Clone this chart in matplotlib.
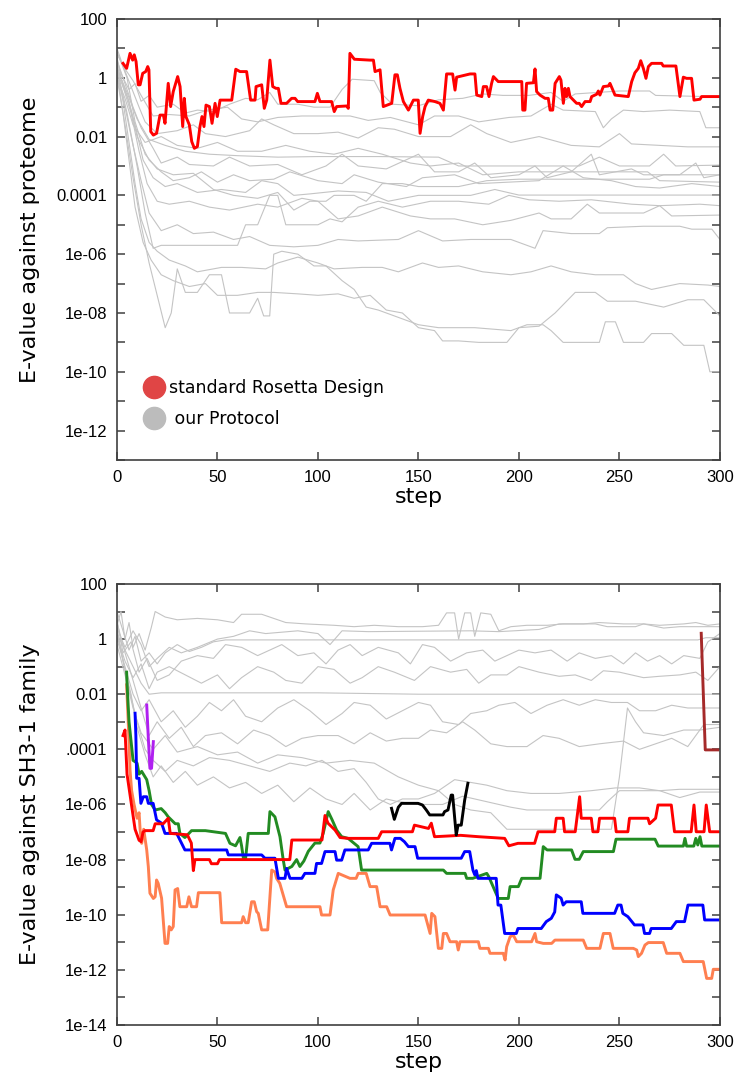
import numpy as np
import matplotlib as mpl
import matplotlib.pyplot as plt
from matplotlib.ticker import FixedLocator, NullFormatter
from matplotlib.lines import Line2D

mpl.rcParams['font.family'] = 'DejaVu Sans'

# ---------------- data: (step, log10 E-value) ----------------
# top panel: standard Rosetta design
top_red = [(3, 0.49), (4.8, 0.32), (6.5, 0.83), (7.8, 0.6), (8.6, 0.78), (9.5, 0.55), (10.6, -0.24),
           (11.5, -0.24), (12.8, 0.15), (14.3, 0.21), (15.3, 0.38), (15.9, 0.27), (16.8, -1.83),
           (18.1, -1.95), (19.7, -1.89), (21.4, -1.27), (23.1, -1.27), (23.9, -1.55), (25.5, -0.19),
           (26.7, -0.98), (28, -0.47), (30.2, 0.04), (31.4, -0.3), (32.7, -1.66), (33.5, -0.7),
           (34.3, -1.32), (36, -1.6), (37.2, -2.17), (38.5, -2.4), (40, -2.34), (41.3, -1.66),
           (42.3, -1.32), (43.3, -1.66), (44.3, -0.93), (46, -0.98), (47.3, -1.55), (48.8, -0.87),
           (49.9, -1.32), (51.3, -0.76), (57.1, -0.76), (59.1, 0.29), (61.2, 0.21), (64.5, 0.21),
           (66.5, -0.76), (68.7, -0.76), (69.2, -0.3), (72, -0.24), (73.3, -1.04), (74.5, -0.76),
           (76.1, 0.6), (77.5, -0.3), (79.1, -0.36), (80.3, -0.36), (81.6, -0.87), (84.4, -0.87),
           (86.9, -0.7), (88.6, -0.7), (89.9, -0.81), (98.5, -0.81), (99.7, -0.53), (101, -0.81),
           (106.8, -0.81), (108.1, -1.15), (109.3, -0.98), (114.3, -0.96), (115.1, -1.04),
           (115.9, 0.83), (118.1, 0.63), (125.9, 0.6), (127.6, 0.6), (128.4, 0.21), (130.9, 0.27),
           (132.5, -0.98), (136.7, -0.87), (138.3, 0.1), (139.5, 0.1), (140.8, -0.36), (142.5, -0.81),
           (145, -1.1), (147.5, -0.76), (149.9, -0.76), (150.8, -1.89), (152.1, -1.32), (153.3, -0.98),
           (154.9, -0.76), (158.2, -0.81), (160.7, -0.87), (162.4, -1.1), (164, 0.13), (167, 0.13),
           (168.2, -0.42), (169, 0.02), (175.7, 0.13), (178.1, 0.13), (179, -0.59), (181.5, -0.64),
           (182.3, -0.3), (183.9, -0.3), (185.1, -0.64), (186.4, -0.19), (187.3, 0.04), (189.7, -0.13),
           (201.4, -0.13), (201.9, -1.1), (203, -1.1), (203.8, -0.19), (207.2, -0.17), (208, 0.3),
           (208.8, -0.47), (210.5, -0.59), (213, -0.7), (214.6, -0.7), (215.5, -1.1), (216.8, -1.1),
           (218, -0.19), (220.1, 0.04), (220.9, -0.08), (222.1, -0.87), (222.9, -0.36), (223.7, -0.64),
           (224.6, -0.36), (225.4, -0.64), (227.1, -0.76), (228.7, -0.87), (230, -0.87), (231.2, -0.98),
           (232.9, -0.81), (235.4, -0.81), (236.2, -0.64), (238.7, -0.56), (239.5, -0.45), (240.3, -0.59),
           (242, -0.3), (244.5, -0.28), (245.3, -0.19), (247.8, -0.59), (254.4, -0.64), (256.1, -0.13),
           (257.7, 0.17), (259.4, 0.32), (260.6, 0.58), (261.9, 0.32), (263.2, -0.02), (264.4, 0.38),
           (266, 0.49), (271, 0.49), (271.8, 0.4), (278.1, 0.4), (280.1, -0.64), (281.8, 0.02),
           (283.4, -0.02), (285.9, -0.02), (287.1, -0.76), (290.1, -0.73), (290.9, -0.64), (300, -0.64)]

# top panel: our protocol runs
top_grey = [
    [(0, 0.5), (3, 0.0), (6, -0.4), (9, -0.2), (12, -0.8), (16, -0.6), (20, -1.0), (28, -0.9), (34, -1.2),
     (40, -1.1), (48, -1.15), (56, -0.9), (64, -0.7), (70, -0.75), (76, -0.5), (80, -0.9), (90, -0.9),
     (98, -1.0), (106, -1.0), (112, -0.4), (117, -0.05), (128, -0.1), (131, -0.5), (137, -0.9), (150, -0.95),
     (160, -0.75), (172, -0.7), (182, -0.55), (192, -0.6), (205, -0.6), (216, -0.5), (222, -0.8), (228, -0.55),
     (250, -0.45), (265, -0.45), (268, -0.6), (300, -0.65)],
    [(0, 0.8), (4, 0.3), (8, -0.1), (12, -0.6), (18, -1.3), (26, -1.25), (36, -1.3), (45, -1.1), (55, -1.0),
     (62, -1.4), (70, -1.5), (80, -1.35), (92, -1.3), (100, -1.3), (116, -1.3), (125, -1.45), (136, -1.35),
     (150, -1.6), (158, -1.3), (170, -1.3), (180, -1.5), (195, -1.35), (206, -1.3), (216, -0.9), (222, -1.1),
     (238, -1.15), (242, -1.7), (246, -1.4), (252, -1.1), (262, -1.15), (275, -1.1), (290, -1.15),
     (293, -1.7), (300, -1.7)],
    [(0, 1.0), (3, 0.4), (7, -0.3), (11, -1.0), (14, -1.5), (20, -1.9), (30, -1.8), (38, -1.6), (44, -1.9),
     (54, -2.0), (66, -1.8), (72, -1.4), (78, -1.6), (88, -1.9), (100, -1.9), (110, -1.85), (120, -2.05),
     (130, -1.7), (138, -1.75), (150, -2.0), (166, -2.0), (176, -1.6), (184, -1.9), (196, -2.2), (210, -2.0),
     (226, -2.3), (240, -2.35), (250, -1.9), (256, -2.25), (270, -2.3), (284, -2.35), (300, -2.35)],
    [(0, 0.3), (5, -0.5), (10, -1.4), (16, -2.1), (24, -2.3), (34, -2.5), (46, -2.6), (60, -2.65), (80, -2.7),
     (100, -2.68), (130, -2.68), (160, -2.7), (170, -3.0), (200, -3.0), (230, -3.0), (240, -2.7), (250, -3.0),
     (265, -3.0), (272, -2.6), (278, -3.0), (300, -2.97)],
    [(0, 0.6), (4, -0.2), (8, -1.0), (12, -1.7), (18, -2.4), (22, -2.9), (30, -2.7), (36, -2.95), (48, -3.0),
     (56, -2.7), (66, -3.0), (80, -2.95), (92, -3.3), (104, -3.0), (112, -2.6), (120, -3.0), (134, -3.1),
     (150, -2.6), (158, -3.2), (170, -3.2), (178, -2.9), (186, -3.4), (200, -3.3), (208, -3.0), (214, -3.4),
     (226, -3.2), (236, -2.6), (240, -3.3), (256, -3.1), (262, -3.3), (280, -3.3), (288, -2.9), (292, -3.4),
     (300, -3.3)],
    [(0, 0.2), (6, -0.8), (10, -2.0), (16, -2.8), (22, -3.2), (28, -3.5), (36, -3.4), (42, -3.2), (50, -3.55),
     (58, -3.3), (66, -3.5), (78, -3.45), (86, -3.2), (100, -3.5), (112, -3.6), (118, -3.3), (130, -3.55),
     (144, -3.7), (152, -3.4), (168, -3.3), (180, -3.6), (195, -3.55), (210, -3.5), (222, -3.0), (232, -3.4),
     (246, -3.5), (258, -3.7), (270, -3.75), (286, -3.6), (300, -3.7)],
    [(0, 0.4), (5, -0.6), (9, -1.6), (13, -2.8), (18, -3.4), (24, -3.7), (30, -3.6), (40, -3.9), (52, -3.8),
     (64, -3.9), (72, -3.5), (80, -3.6), (88, -4.0), (96, -3.95), (110, -3.85), (124, -3.9), (135, -4.2),
     (150, -4.0), (163, -4.0), (176, -4.0), (188, -3.8), (200, -3.99), (300, -3.99)],
    [(0, 0.7), (3, -0.3), (7, -1.2), (11, -2.5), (15, -3.6), (20, -4.2), (26, -4.3), (36, -4.2), (46, -4.4),
     (56, -4.5), (70, -4.3), (80, -4.4), (92, -4.1), (100, -4.2), (110, -4.8), (120, -4.7), (132, -4.4),
     (146, -4.7), (156, -4.8), (168, -4.8), (182, -5.0), (196, -4.85), (210, -4.6), (216, -4.8), (226, -4.8),
     (234, -4.3), (240, -4.6), (262, -4.6), (270, -4.35), (276, -4.7), (300, -4.67)],
    [(0, 0.1), (4, -1.0), (8, -2.3), (12, -3.5), (16, -4.6), (22, -5.2), (30, -5.0), (38, -5.3), (48, -5.25),
     (58, -5.5), (66, -5.4), (76, -5.7), (88, -5.75), (100, -5.7), (110, -5.5), (120, -5.55), (140, -5.5),
     (150, -5.2), (162, -5.55), (176, -5.5), (196, -5.5), (208, -5.8), (212, -5.2), (226, -5.3), (240, -5.3),
     (244, -5.1), (262, -5.05), (280, -5.05), (286, -5.15), (296, -5.15), (300, -5.5)],
    [(0, 0.5), (3, -0.8), (6, -2.2), (9, -3.6), (12, -4.8), (16, -5.6), (20, -5.9), (26, -6.2), (34, -6.4),
     (40, -6.6), (52, -6.45), (62, -6.45), (74, -6.5), (80, -6.3), (90, -6.1), (100, -6.3), (108, -6.5),
     (122, -6.45), (132, -6.45), (140, -6.6), (152, -6.3), (160, -6.45), (170, -6.4), (182, -6.6), (196, -6.7),
     (206, -6.6), (216, -6.4), (226, -6.6), (238, -6.7), (252, -6.7), (258, -7.0), (266, -7.2), (280, -7.0),
     (294, -7.05), (300, -7.1)],
    [(0, 0.2), (3, -1.2), (6, -2.8), (9, -4.4), (13, -5.6), (17, -6.2), (22, -6.7), (28, -6.9), (36, -7.1),
     (44, -7.0), (50, -7.4), (60, -7.4), (70, -7.3), (78, -7.3), (90, -7.35), (100, -7.4), (110, -7.35),
     (118, -7.5), (126, -7.4), (134, -7.9), (142, -8.0), (150, -8.5), (158, -8.6), (162, -8.95), (170, -8.95),
     (180, -9.0), (194, -9.0), (200, -8.5), (210, -8.45), (218, -8.0), (228, -7.3), (238, -7.3), (244, -7.6),
     (258, -7.6), (272, -7.8), (284, -7.55), (292, -7.55), (300, -8.1)],
    [(0, 0.0), (4, -1.6), (8, -3.4), (12, -5.0), (16, -6.3), (20, -7.4), (24, -8.5), (27, -8.0), (30, -6.5),
     (34, -7.3), (40, -7.3), (46, -6.7), (52, -6.7), (56, -8.0), (66, -8.0), (70, -7.5), (73, -8.1), (76, -8.1),
     (78, -6.0), (82, -5.9), (90, -6.0), (98, -6.4), (104, -6.4), (112, -6.9), (118, -7.2), (124, -7.8),
     (130, -7.9), (138, -8.1), (150, -8.4), (160, -8.5), (178, -8.5), (196, -8.6), (204, -8.4), (212, -8.4),
     (216, -8.6), (222, -9.0), (240, -9.0), (243, -8.3), (248, -8.3), (252, -9.0), (262, -9.0), (266, -8.7),
     (276, -8.7), (282, -9.1), (292, -9.1), (295, -10.0), (300, -10.0)],
    [(0, 0.9), (5, 0.0), (9, -1.5), (14, -2.6), (20, -3.1), (28, -3.3), (38, -3.25), (48, -3.8), (58, -4.0),
     (70, -4.1), (80, -3.9), (88, -4.5), (96, -4.2), (104, -4.2), (108, -4.0), (118, -4.0), (124, -4.2),
     (132, -3.6), (142, -3.6), (150, -3.7), (170, -3.7), (184, -3.5), (200, -3.45), (265, -3.45), (272, -3.3),
     (300, -3.3)],
    [(0, 0.3), (5, -1.2), (10, -3.0), (14, -4.6), (18, -5.8), (22, -5.7), (60, -5.7), (64, -5.0), (70, -5.0),
     (76, -4.0), (80, -4.0), (84, -5.0), (100, -5.0), (106, -4.8), (112, -4.9), (120, -4.4), (130, -4.2),
     (142, -4.4), (156, -4.2), (170, -4.2), (185, -4.3), (195, -4.0), (205, -4.15), (220, -4.2), (236, -4.15),
     (256, -4.3), (270, -4.35), (290, -4.3), (300, -4.35)],
    [(0, 0.0), (4, -0.7), (8, -1.6), (14, -2.2), (22, -2.0), (30, -2.3), (40, -2.4), (50, -2.2), (60, -2.5),
     (72, -2.5), (84, -2.3), (96, -2.5), (108, -2.6), (120, -2.4), (132, -2.6), (146, -2.9), (156, -3.0),
     (170, -2.9), (182, -3.3), (200, -3.2), (264, -3.2), (270, -3.5), (300, -3.55)],
]

# bottom panel: coloured runs
bot_red = [(3, -3.5), (4, -3.3), (5, -4.9), (7, -5.9), (9, -6.9), (11, -7.3), (12, -7.35), (13, -7.0),
           (14, -6.95), (18, -6.95), (19, -6.7), (23, -6.7), (25.5, -6.5), (26.5, -7.05), (35, -7.1),
           (37, -7.4), (38, -8.4), (38.8, -8.0), (46, -8.0), (47, -8.15), (50, -8.15), (51, -8.0), (86, -8.0),
           (87, -7.29), (102, -7.29), (103.5, -6.4), (105, -6.68), (108.5, -6.93), (111, -7.2), (115, -7.23),
           (130, -7.23), (131.7, -6.99), (147, -6.99), (148, -6.75), (155, -6.87), (156.4, -6.68),
           (158, -7.17), (171, -7.12), (180, -7.17), (192.9, -7.23), (195, -7.5), (199.5, -7.41),
           (207.8, -7.41), (209.5, -6.99), (217.8, -6.99), (218.6, -6.5), (222, -6.5), (222.7, -6.99),
           (228, -6.99), (230.2, -5.72), (231, -6.5), (236, -6.5), (236.8, -6.99), (239.3, -6.99),
           (240.1, -6.5), (247.6, -6.5), (248.4, -6.99), (254.2, -6.99), (255, -6.5), (264.2, -6.5),
           (265, -6.7), (268, -6.5), (269.2, -6.02), (275.8, -6.02), (277.4, -6.99), (285.7, -6.99),
           (287.1, -6.02), (288.2, -6.99), (292.1, -6.99), (293.2, -6.02), (294.9, -6.99), (299, -6.99)]

bot_green = [(4.8, -1.2), (5, -1.6), (6, -3.0), (8, -4.4), (10, -4.5), (11, -4.9), (12.3, -4.8), (14.8, -5.1),
             (16, -5.5), (17.2, -6.0), (19, -6.2), (22, -6.15), (24, -6.3), (25.5, -6.45), (29, -6.7),
             (30.5, -6.7), (31.3, -7.05), (33.8, -7.2), (37.1, -6.95), (44, -6.95), (49, -7.0), (54, -7.05),
             (56.2, -7.41), (59, -7.5), (61.2, -7.2), (62, -7.5), (62.9, -7.95), (64, -7.95), (65.3, -7.05),
             (75.3, -7.05), (76.1, -6.26), (78.6, -6.45), (81.1, -7.17), (82.7, -8.0), (83.6, -8.38),
             (87, -8.25), (89.4, -8.0), (91, -8.25), (93, -8.05), (95.2, -7.7), (98.5, -7.4), (101, -7.4),
             (102.6, -7.05), (105.1, -6.26), (107, -6.55), (109.3, -6.93), (111.8, -7.17), (115, -7.23),
             (120, -7.53), (121.7, -8.38), (162.4, -8.38), (164, -8.5), (173.2, -8.5), (174, -8.68),
             (177, -8.68), (184, -8.5), (185, -8.62), (189.7, -9.41), (194.7, -9.41), (195.6, -8.98),
             (199.7, -8.98), (201.4, -8.68), (210.5, -8.68), (212.1, -7.53), (214, -7.65), (226.2, -7.65),
             (227.9, -7.99), (230, -7.99), (232, -7.71), (247, -7.71), (248.3, -7.26), (267.7, -7.26),
             (269.3, -7.51), (281.8, -7.51), (282.6, -7.23), (283.4, -7.51), (287, -7.51), (288, -7.23),
             (289, -7.47), (290.1, -7.17), (291, -7.51), (299.2, -7.51)]

bot_blue = [(9, -2.69), (9.4, -3.5), (9.8, -5.05), (11, -5.05), (11.9, -5.96), (13.1, -5.72), (14.8, -5.72),
            (15.6, -5.96), (18, -5.96), (19.7, -6.56), (22.2, -6.68), (23.9, -7.05), (29.7, -7.05),
            (33.8, -7.65), (54.6, -7.65), (55.4, -7.83), (72, -7.83), (73.6, -7.95), (78.6, -7.95),
            (80.3, -8.68), (83.6, -8.68), (84.4, -8.32), (86.1, -8.68), (92, -8.68), (93.5, -8.5),
            (98.5, -8.5), (99.3, -8.14), (101.8, -8.14), (103.5, -7.71), (108.5, -7.71), (109.3, -8.02),
            (111.8, -8.02), (113.4, -7.65), (125, -7.65), (126.7, -7.41), (135.8, -7.41), (136.6, -7.65),
            (138.3, -7.23), (141, -7.23), (143, -7.35), (145, -7.53), (148.3, -7.53), (149.6, -7.95),
            (171.3, -7.95), (173, -7.71), (175.5, -7.71), (177.1, -8.38), (178, -8.55), (178.8, -8.4),
            (179.6, -8.68), (188.7, -8.68), (189.6, -9.65), (191, -9.65), (192.9, -10.68), (198.7, -10.68),
            (199.5, -10.5), (211.1, -10.5), (213.6, -10.25), (216.1, -10.13), (217.8, -9.9), (218.6, -9.28),
            (221, -9.4), (222, -9.65), (223.5, -9.53), (231, -9.53), (231.8, -9.95), (247.6, -9.95),
            (249.2, -9.65), (250.8, -9.65), (251.7, -9.95), (254.2, -10.07), (257.5, -10.37), (261.7, -10.37),
            (262.5, -10.68), (265, -10.68), (265.8, -10.5), (275.8, -10.5), (278.3, -10.25), (282.4, -10.25),
            (284.1, -9.65), (291.5, -9.65), (292.4, -10.19), (299, -10.19)]

bot_coral = [(4.8, -1.66), (5.6, -3.0), (6.5, -4.75), (7.3, -5.5), (8.5, -6.0), (10, -6.5), (11, -6.3),
             (11.5, -6.9), (12.3, -7.41), (13.3, -6.9), (14.8, -7.65), (15.6, -8.26), (16.4, -9.22),
             (18.1, -9.41), (19, -9.35), (19.7, -8.74), (20.5, -8.86), (22.2, -9.4), (23.9, -11.04),
             (25.2, -11.04), (26, -10.43), (27, -10.55), (28, -10.43), (28.9, -9.1), (30.2, -9.05),
             (31.3, -9.71), (34.7, -9.71), (35.8, -9.35), (37.1, -9.71), (39.6, -9.71), (40.5, -9.2),
             (51.2, -9.2), (52.1, -10.29), (62, -10.29), (62.8, -10.07), (64, -10.29), (65.3, -10.29),
             (67, -9.53), (68.3, -9.53), (69.5, -9.89), (70.3, -9.95), (72, -10.55), (75, -10.55), (77, -8.38),
             (78.6, -8.45), (79.4, -8.68), (81, -8.86), (84.4, -9.71), (101, -9.71), (101.8, -10.01),
             (106, -10.01), (107.6, -9.1), (110.1, -8.5), (115.9, -8.68), (119, -8.68), (120, -8.5),
             (124, -8.5), (125.9, -8.98), (129.2, -8.98), (130.9, -9.71), (134.2, -9.71), (135.9, -10.01),
             (153.3, -10.01), (155.8, -10.68), (156.6, -9.95), (158.2, -10.07), (159.9, -11.22),
             (161.6, -11.22), (162.4, -10.68), (164, -10.68), (165.7, -10.98), (169, -10.98), (169.8, -11.28),
             (170.7, -10.98), (179.8, -10.98), (180.6, -11.22), (184.8, -11.22), (185.6, -11.4), (192.2, -11.4),
             (193.1, -11.64), (193.9, -11.16), (195.6, -10.8), (197.2, -10.74), (198.9, -10.98),
             (206.3, -10.98), (208, -10.68), (208.8, -10.98), (212.1, -11.04), (216.3, -11.04),
             (217.9, -10.92), (232, -10.92), (233.7, -11.22), (240.3, -11.22), (242, -10.68), (245.3, -10.68),
             (246.9, -11.22), (256.9, -11.22), (258.6, -11.28), (259.4, -11.52), (261, -11.4), (262.7, -11.1),
             (264.4, -11.01), (271.8, -11.01), (273.5, -11.4), (280.1, -11.4), (281.8, -11.7), (291.7, -11.7),
             (293.4, -12.31), (295.9, -12.31), (296.7, -11.98), (299.2, -11.98)]

bot_purple = [(14.8, -2.39), (15.6, -3.6), (16.4, -4.69), (17.2, -4.69), (18.1, -3.72)]

bot_black = [(136.6, -6.14), (138, -6.54), (140, -6.1), (141.6, -5.96), (149.8, -5.96), (152, -6.02),
             (153.9, -6.2), (155.6, -6.38), (162.2, -6.38), (163, -6.26), (164.7, -6.2), (166.3, -5.66),
             (167, -5.66), (168.8, -7.11), (169.7, -6.75), (171.3, -6.75), (173, -5.84), (174.6, -5.23)]

bot_brown = [(290.7, 0.21), (292.7, -4.02), (299, -4.02)]

bot_grey = [
    [(0, 0.5), (2, 1.0), (4, 0.0), (6, 0.6), (8, -0.3), (11, 0.2), (14, -0.4), (17, 0.4), (19, 1.0), (24, 0.8),
     (30, 0.7), (40, 0.75), (50, 0.7), (58, 0.6), (62, 0.9), (66, 0.9), (72, 0.9), (78, 0.75), (84, 0.6),
     (94, 0.55), (108, 0.5), (118, 0.45), (128, 0.5), (140, 0.45), (152, 0.45), (160, 0.5), (164, 0.95),
     (168, 0.95), (170, 0.0), (173, 0.95), (176, 0.95), (178, 0.1), (181, 0.95), (186, 0.9), (190, 0.3),
     (196, 0.45), (204, 0.5), (214, 0.5), (222, 0.55), (238, 0.55), (244, 0.45), (258, 0.45), (262, 0.55),
     (270, 0.5), (282, 0.55), (288, 0.6), (294, 0.5), (300, 0.55)],
    [(0, 1.0), (3, 0.3), (6, -0.4), (9, 0.1), (12, -0.8), (16, -0.5), (20, -0.9), (24, -0.5), (30, -0.2),
     (36, -0.45), (42, -0.3), (48, -0.1), (54, -0.03), (289, -0.03), (293, 0.05), (300, 0.05)],
    [(0, 0.4), (4, -0.3), (8, 0.3), (12, -0.2), (16, -1.0), (20, -0.7), (26, -0.3), (32, -0.5), (40, -0.3),
     (50, 0.0), (58, 0.1), (66, 0.3), (74, 0.2), (82, 0.25), (90, 0.3), (100, 0.2), (106, -0.2), (112, 0.3),
     (125, 0.27), (176, 0.3), (190, 0.27), (210, 0.35), (220, 0.55), (232, 0.55), (240, 0.6), (252, 0.55),
     (262, 0.55), (272, 0.4), (280, 0.45), (300, 0.45)],
    [(0, 0.7), (3, -0.5), (7, -0.1), (11, -1.2), (15, -0.7), (20, -1.5), (26, -1.3), (32, -0.8), (40, -0.6),
     (48, -0.7), (54, -0.2), (62, -0.3), (70, -0.6), (76, -0.4), (82, -0.2), (90, -0.6), (98, -0.5),
     (104, -0.9), (110, -0.4), (116, -0.2), (122, -0.6), (130, -0.3), (140, -0.5), (146, -0.9), (152, -0.2),
     (158, -0.3), (166, -0.8), (174, -0.5), (182, -0.4), (188, -0.8), (194, -0.6), (200, -0.4), (208, -0.5),
     (216, -0.4), (224, -0.8), (230, -0.5), (238, -0.7), (246, -0.6), (252, -0.9), (258, -0.5), (264, -0.8),
     (270, -0.6), (276, -0.9), (282, -0.6), (290, -0.7), (294, -0.1), (300, 0.2)],
    [(0, 0.1), (4, -0.8), (8, -1.4), (12, -0.9), (16, -1.8), (20, -1.2), (26, -1.0), (34, -1.3), (42, -1.6),
     (50, -1.3), (56, -1.8), (62, -1.4), (70, -1.0), (78, -1.2), (84, -1.5), (92, -1.6), (100, -1.0),
     (108, -1.1), (116, -1.6), (122, -1.4), (130, -1.0), (138, -1.2), (148, -1.5), (156, -1.0), (166, -1.2),
     (174, -1.1), (180, -1.6), (186, -1.3), (194, -1.3), (200, -1.0), (210, -1.2), (220, -1.35), (228, -1.3),
     (236, -1.5), (242, -1.15), (250, -1.2), (262, -1.4), (270, -1.35), (280, -1.3), (288, -1.2), (294, -1.5),
     (300, -1.0)],
    [(0, 0.2), (4, -0.4), (8, -1.0), (12, -1.6), (16, -2.0), (22, -1.95), (100, -1.95), (150, -2.0),
     (300, -2.0)],
    [(0, 0.0), (4, -1.0), (8, -2.0), (12, -2.6), (16, -2.2), (22, -3.0), (28, -2.6), (34, -3.2), (40, -2.8),
     (46, -2.3), (52, -2.6), (58, -2.2), (64, -2.8), (72, -3.0), (80, -2.5), (88, -2.2), (96, -2.6),
     (104, -3.1), (112, -2.7), (118, -2.3), (126, -2.4), (134, -2.9), (142, -2.6), (150, -2.3), (156, -2.4),
     (162, -3.0), (170, -3.1), (176, -2.7), (184, -2.6), (190, -2.4), (198, -2.3), (206, -2.7), (214, -2.4),
     (222, -2.2), (230, -2.4), (238, -2.2), (246, -2.3), (254, -2.3), (260, -2.6), (268, -2.6), (276, -2.4),
     (284, -2.5), (300, -2.5)],
    [(0, 0.6), (4, -0.5), (8, -1.5), (12, -2.5), (16, -3.5), (20, -3.0), (26, -3.6), (32, -3.2), (38, -3.9),
     (44, -3.5), (52, -3.4), (60, -3.8), (68, -3.3), (76, -3.5), (84, -3.9), (92, -3.6), (100, -3.5),
     (110, -3.5), (118, -3.8), (126, -3.4), (134, -3.7), (142, -3.6), (150, -3.6), (156, -3.3), (164, -3.4),
     (172, -3.0), (178, -3.3), (186, -3.8), (194, -3.9), (204, -3.9), (212, -3.5), (220, -3.6), (230, -3.9),
     (240, -3.8), (252, -3.7), (260, -4.0), (268, -3.8), (276, -3.6), (284, -3.9), (292, -3.1), (300, -3.1)],
    [(0, 0.3), (5, -1.5), (10, -3.0), (14, -4.0), (18, -4.4), (24, -4.8), (30, -4.4), (38, -4.6), (46, -4.3),
     (56, -4.4), (66, -4.6), (76, -4.8), (86, -4.5), (94, -4.6), (102, -4.4), (110, -4.8), (118, -4.7),
     (124, -5.2), (130, -5.8), (136, -6.0), (142, -5.8), (150, -5.8), (158, -5.6), (168, -5.1), (176, -5.2),
     (184, -5.3), (194, -5.5), (206, -5.6), (220, -5.6), (236, -5.5), (248, -5.4), (260, -5.4), (270, -5.5),
     (280, -5.45), (300, -5.45)],
    [(0, -0.2), (4, -1.3), (8, -2.5), (12, -3.4), (18, -4.0), (24, -3.5), (30, -4.1), (40, -3.9), (50, -4.2),
     (60, -4.1), (70, -4.5), (80, -4.2), (92, -4.3), (104, -4.5), (116, -4.4), (128, -4.5), (140, -5.0),
     (150, -5.3), (160, -5.5), (168, -6.0), (176, -6.2), (186, -6.3), (194, -6.9), (246, -6.9), (250, -5.0),
     (254, -2.5), (258, -3.0), (262, -3.4), (272, -3.5), (282, -3.3), (290, -3.3), (300, -3.2)],
    [(0, 0.4), (3, -0.8), (7, -2.0), (10, -3.2), (14, -4.2), (18, -5.0), (22, -4.6), (28, -5.2), (34, -4.8),
     (40, -5.3), (48, -5.0), (56, -5.4), (64, -5.2), (72, -5.6), (80, -5.3), (88, -5.9), (96, -5.4),
     (104, -5.8), (112, -6.0), (118, -5.6), (126, -6.2), (134, -5.8), (140, -5.9), (150, -6.0), (162, -6.0),
     (172, -5.7), (184, -5.9), (196, -6.1), (204, -6.2), (240, -6.2), (244, -5.9), (250, -5.5), (270, -5.5),
     (280, -5.75), (290, -5.55), (300, -5.55)],
]

top_ticklabels = ['1e-12', '1e-10', '1e-08', '1e-06', '0.0001', '0.01', '1', '100']
bot_ticklabels = ['1e-14', '1e-12', '1e-10', '1e-08', '1e-06', '.0001', '0.01', '1', '100']
x_ticks = [0, 50, 100, 150, 200, 250, 300]

GREY = '#c4c4c4'
SPINE = '#404040'


def draw(ax, pts, **kw):
    s = [p[0] for p in pts]
    e = 10.0 ** np.array([p[1] for p in pts])
    ax.plot(s, e, **kw)


def style(ax, lo_exp, labels, ylabel):
    ax.set_yscale('log')
    ax.set_xlim(0, 300)
    ax.set_ylim(10.0 ** lo_exp, 100)
    major = [10.0 ** k for k in range(2, lo_exp - 1, -2) if k >= lo_exp][::-1]
    ax.yaxis.set_major_locator(FixedLocator(major))
    ax.set_yticklabels(labels)
    minor = [10.0 ** k for k in range(lo_exp, 2) if k % 2 != 0]
    ax.yaxis.set_minor_locator(FixedLocator(minor))
    ax.yaxis.set_minor_formatter(NullFormatter())
    ax.set_xticks(x_ticks)
    ax.tick_params(which='both', direction='in', top=True, right=True, length=6, width=1.1,
                   color=SPINE, labelsize=12, pad=7)
    for lab in ax.get_xticklabels() + ax.get_yticklabels():
        lab.set_family('Liberation Sans')
    for sp in ax.spines.values():
        sp.set_color(SPINE)
        sp.set_linewidth(1.2)
    ax.set_xlabel('step', fontsize=16)
    ax.set_ylabel(ylabel, fontsize=16)
    ax.yaxis.set_label_coords(-0.128, 0.5)
    ax.xaxis.set_label_coords(0.5, -0.062)
    ax.xaxis.label.set_va('top')


fig = plt.figure(figsize=(7.38, 10.77), dpi=100)
ax1 = fig.add_axes((0.1585, 0.5729, 0.817, 0.4095))
ax2 = fig.add_axes((0.1585, 0.0483, 0.817, 0.4095))

# top panel
for run in top_grey:
    draw(ax1, run, color=GREY, lw=0.8)
draw(ax1, top_red, color='#ff0000', lw=2.1)
style(ax1, -13, top_ticklabels, 'E-value against proteome')

handles = [Line2D([], [], ls='', marker='o', markersize=16, color='#e04545'),
           Line2D([], [], ls='', marker='o', markersize=16, color='#bcbcbc')]
ax1.legend(handles, ['standard Rosetta Design', ' our Protocol'], loc='center left',
           bbox_to_anchor=(0.047, 0.128), frameon=False, fontsize=12.5, handlelength=1.0,
           handletextpad=0.35, labelspacing=0.75, borderpad=0, borderaxespad=0)

# bottom panel
for run in bot_grey:
    draw(ax2, run, color=GREY, lw=0.8)
draw(ax2, bot_coral, color='#ff7f50', lw=2.1)
draw(ax2, bot_green, color='#228b22', lw=2.1)
draw(ax2, bot_blue, color='#0000ff', lw=2.1)
draw(ax2, bot_red, color='#ff0000', lw=2.1)
draw(ax2, bot_purple, color='#b020f0', lw=2.1)
draw(ax2, bot_black, color='#000000', lw=2.1)
draw(ax2, bot_brown, color='#a52a2a', lw=2.1)
style(ax2, -14, bot_ticklabels, 'E-value against SH3-1 family')

fig.savefig('out.png', dpi=100)
